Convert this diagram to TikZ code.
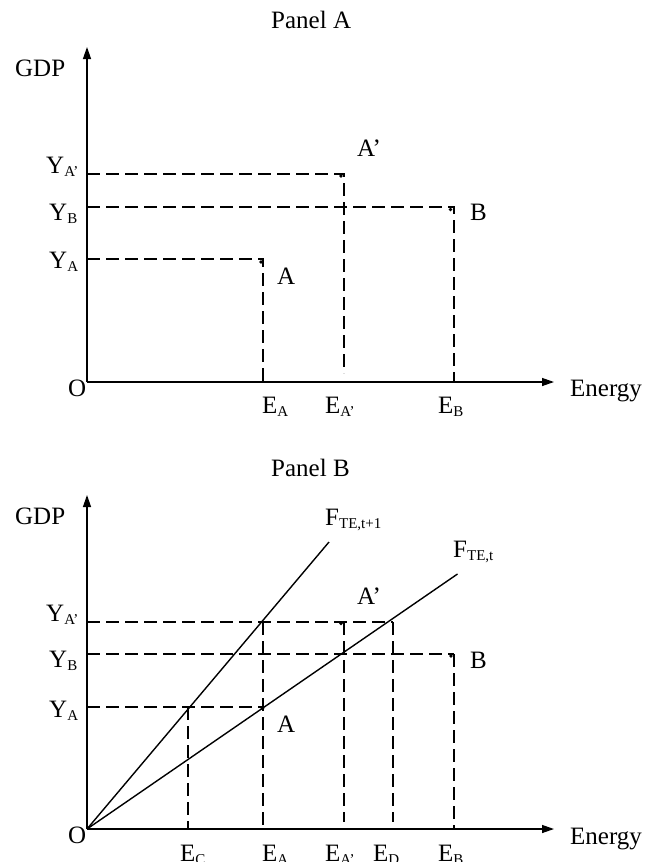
\documentclass[tikz,border=0pt]{standalone}
\usepackage{fontspec}
\setmainfont{Liberation Serif}
\usetikzlibrary{arrows.meta}
\newcommand{\sbs}[1]{\raisebox{-3pt}{\fontsize{15}{15}\selectfont #1}}
\begin{document}
\begin{tikzpicture}[x=1pt,y=-1pt,
  axisline/.style={line width=1.3pt,-{Triangle[length=12pt,width=8pt]}},
  guide/.style={line width=1.6pt,dash pattern=on 13pt off 6pt},
  frontier/.style={line width=1.4pt},
  lbl/.style={anchor=base west,inner sep=0pt,font=\fontsize{25}{25}\selectfont},
  dotmark/.style={fill=black}]
\useasboundingbox (0,0) rectangle (650,862);

% ---------------- Panel A ----------------
\node[lbl] (titleA) at (271,28) {Panel A};
\coordinate (OA) at (87,382);
\coordinate (yendA) at (87,47);
\coordinate (xendA) at (554,382);
\draw[axisline] (OA) -- (yendA);
\draw[axisline] (OA) -- (xendA);
\node[lbl] (gdpA) at (15,76) {GDP};
\node[lbl] (oA) at (68,396) {O};
\node[lbl] (enA) at (570,396) {Energy};

\coordinate (pA) at (263,259);
\coordinate (pAp) at (344,174);
\coordinate (pB) at (454,207);
\coordinate (pApend) at (344,373);

\draw[guide] (OA |- pA) -| (pA |- OA);
\draw[guide] (OA |- pAp) -| (pApend);
\draw[guide] (OA |- pB) -| (pB |- OA);

\fill[dotmark] (261,262) circle (1.8pt);
\fill[dotmark] (341,176) circle (1.8pt);
\fill[dotmark] (450.5,209.5) circle (1.8pt);

\node[lbl] (labA) at (277,284) {A};
\node[lbl] (labAp) at (357,156) {A’};
\node[lbl] (labB) at (470,220) {B};

\node[lbl] (yApA) at (46,173) {Y\sbs{A’}};
\node[lbl] (yBA) at (49,220) {Y\sbs{B}};
\node[lbl] (yAA) at (49,268) {Y\sbs{A}};

\node[lbl] (eAA) at (262,413) {E\sbs{A}};
\node[lbl] (eApA) at (325,413) {E\sbs{A’}};
\node[lbl] (eBA) at (438,413) {E\sbs{B}};

% ---------------- Panel B ----------------
\node[lbl] (titleB) at (271,476) {Panel B};
\coordinate (OB) at (87,829);
\coordinate (yendB) at (87,495);
\coordinate (xendB) at (554,829);
\draw[axisline] (OB) -- (yendB);
\draw[axisline] (OB) -- (xendB);
\node[lbl] (gdpB) at (15,524) {GDP};
\node[lbl] (oB) at (68,843) {O};
\node[lbl] (enB) at (570,844) {Energy};

\coordinate (ft1) at (329,542);
\coordinate (ft) at (457.5,574);
\draw[frontier] (OB) -- (ft1);
\draw[frontier] (OB) -- (ft);

\coordinate (qA) at (263,707);
\coordinate (qAp) at (344,622);
\coordinate (qB) at (454,654);
\coordinate (qC) at (188,707);
\coordinate (qD) at (393,622);
\coordinate (qEA) at (263,622);
\coordinate (qApend) at (344,822);
\coordinate (qDend) at (393,822);

\draw[guide] (OB |- qA) -- (qA);
\draw[guide] (OB |- qD) -- (qD);
\draw[guide] (OB |- qB) -- (qB);
\draw[guide] (qC) -- (qC |- OB);
\draw[guide] (qEA) -- (qEA |- OB);
\draw[guide] (qAp) -- (qApend);
\draw[guide] (qD) -- (qDend);
\draw[guide] (qB) -- (qB |- OB);

\fill[dotmark] (262.5,708.5) circle (1.8pt);
\fill[dotmark] (341,623.5) circle (1.8pt);
\fill[dotmark] (451,656) circle (1.8pt);

\node[lbl] (labF1) at (325,525) {F\sbs{TE,t+1}};
\node[lbl] (labF) at (453,557) {F\sbs{TE,t}};
\node[lbl] (labAB) at (277,732) {A};
\node[lbl] (labApB) at (357,604) {A’};
\node[lbl] (labBB) at (470,668) {B};

\node[lbl] (yApB) at (46,621) {Y\sbs{A’}};
\node[lbl] (yBB) at (49,667) {Y\sbs{B}};
\node[lbl] (yAB) at (49,717) {Y\sbs{A}};

\node[lbl] (eCB) at (180,861) {E\sbs{C}};
\node[lbl] (eAB) at (262,861) {E\sbs{A}};
\node[lbl] (eApB) at (325,861) {E\sbs{A’}};
\node[lbl] (eDB) at (373,861) {E\sbs{D}};
\node[lbl] (eBB) at (438,861) {E\sbs{B}};
\end{tikzpicture}
\end{document}
